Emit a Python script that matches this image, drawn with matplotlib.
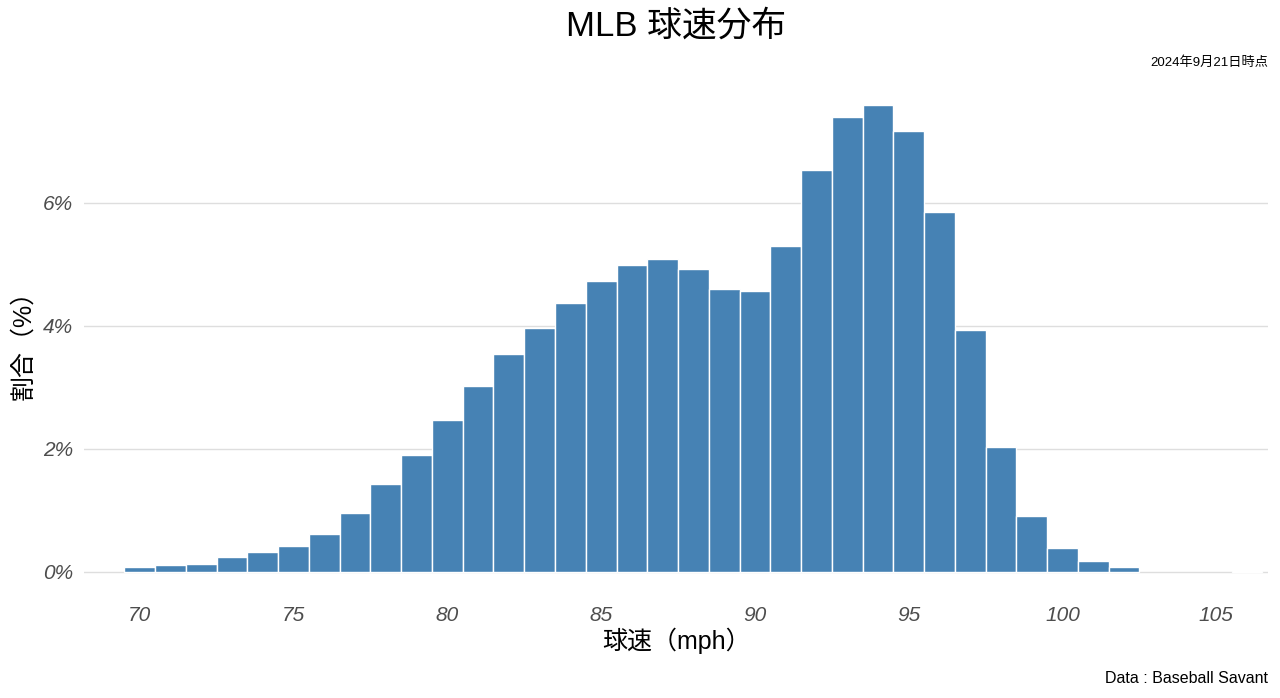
import numpy as np
import matplotlib
matplotlib.use("Agg")
import matplotlib.pyplot as plt
from matplotlib.ticker import FuncFormatter

plt.rcParams['font.family'] = ['Liberation Sans', 'Noto Sans CJK JP', 'DejaVu Sans']

# 1 mph bins, centred on integer speeds
speed = list(range(70, 107))
share = [0.07, 0.10, 0.13, 0.23, 0.32, 0.41, 0.62, 0.96, 1.43, 1.90,
         2.47, 3.02, 3.54, 3.97, 4.37, 4.73, 4.99, 5.09, 4.93, 4.60,
         4.57, 5.30, 6.54, 7.40, 7.59, 7.17, 5.85, 3.93, 2.03, 0.91,
         0.39, 0.18, 0.07, 0.0, 0.0, 0.0, 0.01]
x_ticks = [70, 75, 80, 85, 90, 95, 100, 105]
y_ticks = [0, 2, 4, 6]

fig = plt.figure(figsize=(12.8, 6.98), dpi=100)
ax = fig.add_axes([0.066, 0.1476, 0.925, 0.735])

# skip empty bins so their white edges don't hide the zero line
sp = np.array(speed)
sh = np.array(share)
keep = sh > 0
ax.bar(sp[keep], sh[keep], width=1.0, color="#4682B4", edgecolor="white", linewidth=1.0, zorder=2)

ax.set_xlim(68.2, 106.7)
ax.set_ylim(-0.38, 7.97)
ax.set_xticks(x_ticks)
ax.set_yticks(y_ticks)
ax.yaxis.set_major_formatter(FuncFormatter(lambda v, p: f"{v:.0f}%"))

ax.grid(axis="y", color="#dedede", linewidth=1.0, zorder=0)
ax.grid(axis="x", visible=False)
for s in ax.spines.values():
    s.set_visible(False)
ax.tick_params(length=0, labelsize=15, labelcolor="#4d4d4d")
ax.tick_params(axis="x", pad=8)
ax.tick_params(axis="y", pad=8)
for lab in ax.get_xticklabels() + ax.get_yticklabels():
    lab.set_fontstyle("italic")

ax.set_xlabel("球速（mph）", fontsize=18, labelpad=2)
ax.set_ylabel("割合（%）", fontsize=18, labelpad=6)

fig.text(0.528, 0.963, "MLB 球速分布", ha="center", va="center", fontsize=25)
fig.text(0.991, 0.911, "2024年9月21日時点", ha="right", va="center", fontsize=9.5)
fig.text(0.991, 0.028, "Data : Baseball Savant", ha="right", va="center", fontsize=11.5)

fig.savefig("out.png", dpi=100)
plt.close(fig)
